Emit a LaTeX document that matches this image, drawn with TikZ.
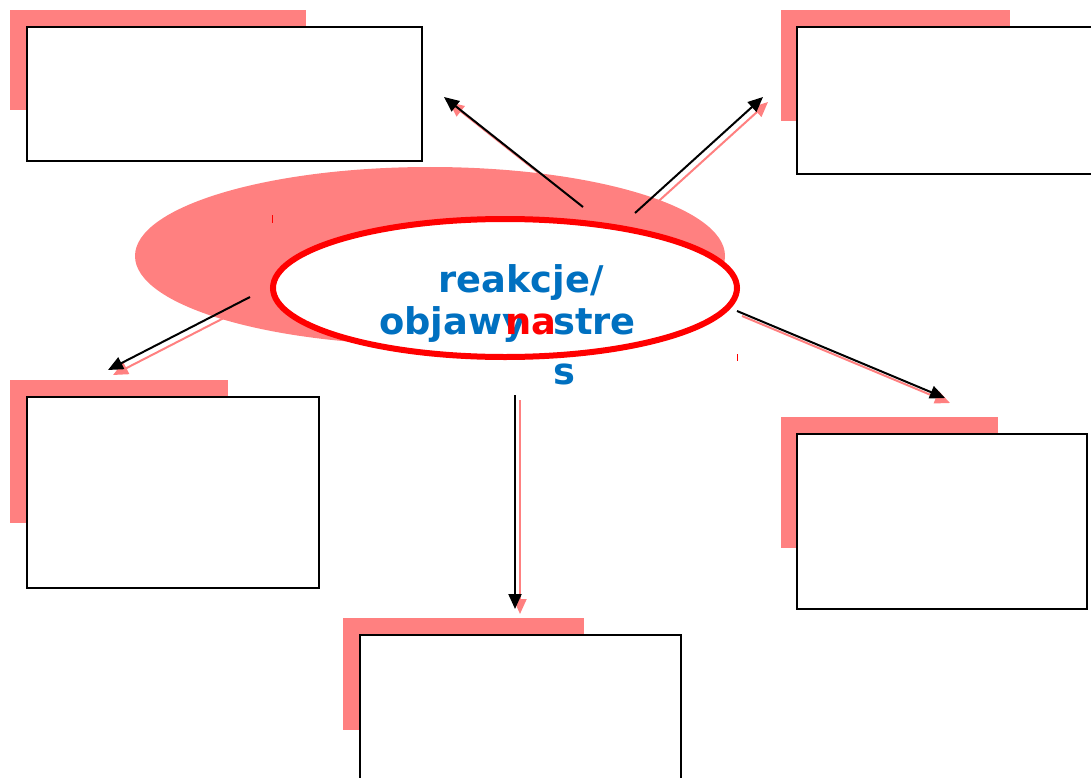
\documentclass[tikz,border=0pt]{standalone}
\usepackage{fontspec}
\setmainfont{DejaVu Sans}
\usetikzlibrary{arrows.meta}
\definecolor{pinkish}{HTML}{FF8080}
\definecolor{txtblue}{HTML}{0070C0}
\tikzset{
  boxnode/.style={draw=black, line width=2pt, fill=white, inner sep=0pt, anchor=north west},
  shadowfill/.style={fill=pinkish},
  conn/.style={line width=2pt, draw=black, -{Triangle[length=15pt,width=13pt]}},
  connshadow/.style={line width=2pt, draw=pinkish, -{Triangle[length=15pt,width=13pt]}},
  bigtxt/.style={inner sep=0pt, anchor=base west, font=\bfseries\fontsize{36.8}{44}\selectfont},
}
\begin{document}
\begin{tikzpicture}[x=1pt,y=-1pt]
\useasboundingbox (0,0) rectangle (1091,778);
% box shadows
\fill[shadowfill] (10,10) rectangle (306,110);
\fill[shadowfill] (781,10) rectangle (1010,121);
\fill[shadowfill] (10,380) rectangle (228,523);
\fill[shadowfill] (781,417) rectangle (998,548);
\fill[shadowfill] (343,618) rectangle (584,730);
% boxes
\node[boxnode, minimum width=395pt, minimum height=134pt] (tl) at (26,26) {};
\node[boxnode, minimum width=305pt, minimum height=147pt] (tr) at (796,26) {};
\node[boxnode, minimum width=292pt, minimum height=191pt] (ml) at (26,396) {};
\node[boxnode, minimum width=290pt, minimum height=175pt] (mr) at (796,433) {};
\node[boxnode, minimum width=321pt, minimum height=160pt] (bt) at (359,634) {};
% central ellipses
\fill[pinkish] (430,256) ellipse [x radius=295pt, y radius=89pt];
\draw[red, line width=6pt, fill=white] (505,288) ellipse [x radius=232pt, y radius=69pt];
\coordinate (centre) at (505,288);
\draw[red, line width=1pt] (272,215) -- (272,223);
\draw[red, line width=1pt] (737,354) -- (737,361);
% arrow end points
\coordinate (s1) at (583,207); \coordinate (e1) at (444,97);
\coordinate (s2) at (635,213); \coordinate (e2) at (763,97);
\coordinate (s3) at (250,297); \coordinate (e3) at (108,370);
\coordinate (s4) at (737,311); \coordinate (e4) at (945,398);
\coordinate (s5) at (515,395); \coordinate (e5) at (515,609);
% shadows of arrows
\foreach \i in {1,...,5}{
  \draw[connshadow] ([shift={(5,5)}]s\i) -- ([shift={(5,5)}]e\i);
}
\foreach \i in {1,...,5}{
  \draw[conn] (s\i) -- (e\i);
}
% text
\node[bigtxt, text=txtblue] (t1) at (438,292) {reakcje/};
\node[bigtxt, text=txtblue] (t2) at (379,334) {objawy};
\node[bigtxt, text=red] (t3) at (505,334) {na};
\node[bigtxt, text=txtblue] (t4) at (553,334) {stre};
\node[bigtxt, text=txtblue] (t5) at (553,384) {s};
\end{tikzpicture}
\end{document}
